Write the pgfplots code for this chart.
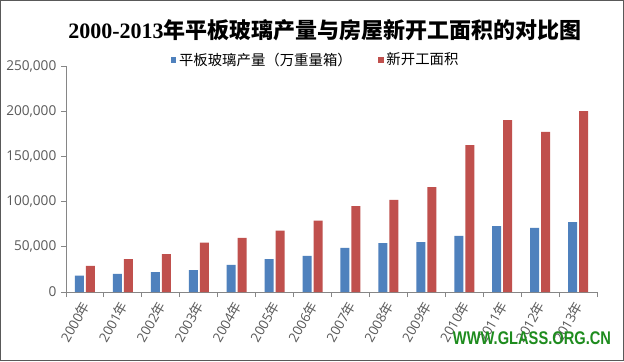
\documentclass[border=0pt]{standalone}
\usepackage{fontspec}
\usepackage{pgfplots}
\pgfplotsset{compat=1.18}
\setmainfont{Open Sans}
\newfontfamily\cjk{Noto Sans CJK SC}
\newfontfamily\titlelatin{Liberation Serif}
\newfontfamily\wmfont{Liberation Sans}
\definecolor{blueS}{HTML}{4F81BD}
\definecolor{redS}{HTML}{C0504D}
\definecolor{axisgray}{HTML}{868686}
\definecolor{labgray}{HTML}{595959}
\definecolor{wm}{HTML}{1E8C1E}
\begin{document}
\begin{tikzpicture}
\useasboundingbox (0,0) rectangle (468pt,270.75pt);
\fill[white] (0,0) rectangle (468pt,270.75pt);
\begin{axis}[
  at={(49.5pt,51.75pt)}, anchor=south west,
  width=398.25pt, height=169.5pt, scale only axis,
  xmin=-0.5, xmax=13.5, ymin=0, ymax=250000,
  axis x line*=bottom, axis y line*=left,
  axis line style={axisgray, line width=0.75pt},
  every tick/.style={axisgray, line width=0.75pt},
  tick align=outside,
  major tick length=3.75pt, minor tick length=3.75pt,
  ybar, bar width=6.75pt,
  ytick={0,50000,100000,150000,200000,250000},
  scaled y ticks=false,
  /pgf/number format/assume math mode=true,
  y tick label style={/pgf/number format/1000 sep={,}, /pgf/number format/fixed, font=\fontsize{10.2}{12}\selectfont, text=labgray},
  xtick={0,...,13},
  xticklabels={2000{\cjk 年},2001{\cjk 年},2002{\cjk 年},2003{\cjk 年},2004{\cjk 年},2005{\cjk 年},2006{\cjk 年},2007{\cjk 年},2008{\cjk 年},2009{\cjk 年},2010{\cjk 年},2011{\cjk 年},2012{\cjk 年},2013{\cjk 年}},
  x tick label style={rotate=60, anchor=east, yshift=-3pt, font=\fontsize{10}{12}\selectfont, text=labgray},
  major x tick style={draw=none},
  minor xtick={-0.5,0.5,...,13.5},
  legend style={at={(0.471,1.027)}, anchor=center, draw=none, fill=none,
    legend columns=2, font=\cjk\fontsize{10.8}{13}\selectfont,
    /tikz/every even column/.append style={column sep=18pt}},
  legend image code/.code={\fill[#1] (0pt,-2pt) rectangle (4pt,2pt);},
]
\addplot[fill=blueS, draw=none, bar shift=-4.125pt] coordinates {
 (0,18000) (1,20000) (2,22000) (3,24300) (4,30000) (5,36500) (6,40000)
 (7,48700) (8,54000) (9,55300) (10,62000) (11,73000) (12,71000) (13,77400)};
\addplot[fill=redS, draw=none, bar shift=4.125pt] coordinates {
 (0,29000) (1,36500) (2,42000) (3,54500) (4,60000) (5,68000) (6,79000)
 (7,95000) (8,102000) (9,116000) (10,162600) (11,190000) (12,177000) (13,200000)};
\legend{平板玻璃产量（万重量箱）,新开工面积}
\end{axis}
\node[font=\bfseries\fontsize{16.5}{20}\selectfont] at (243.75pt,248.25pt) {{\titlelatin 2000-2013}{\cjk 年平板玻璃产量与房屋新开工面积的对比图}};
\node[text=wm, font=\wmfont\bfseries\fontsize{11}{13}\selectfont] at (399pt,17.25pt) {\scalebox{1}[1.25]{WWW.GLASS.ORG.CN}};
\draw[line width=0.75pt, black!65] (0.375pt,0.375pt) rectangle (467.625pt,270.375pt);
\end{tikzpicture}
\end{document}
